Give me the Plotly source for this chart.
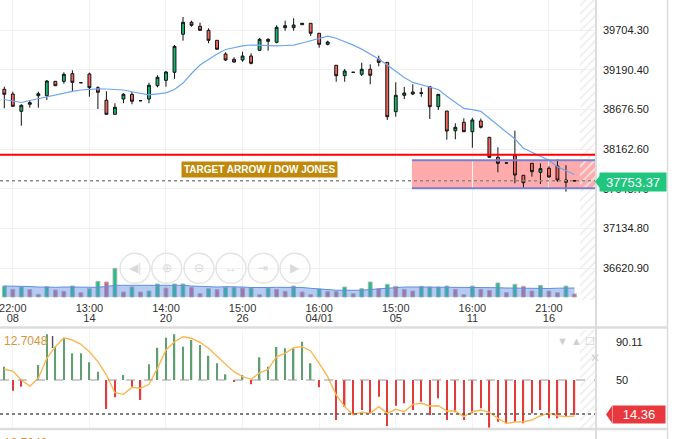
import plotly.graph_objects as go

# candle index and OHLC
idx = list(range(68))
open_ = [38937, 38876, 38652, 38743, 38854, 38854, 39040, 39040, 39139, 39022,
         39135, 38958, 38795, 38613, 38811, 38872, 38789, 38811, 38983, 39053,
         39157, 39649, 39804, 39752, 39700, 39571, 39394, 39325, 39316, 39368,
         39442, 39584, 39545, 39734, 39734, 39773, 39791, 39662, 39519, 39248,
         39113, 39157, 39131, 39196, 39325, 39286, 38647, 38859, 38876, 38893,
         38971, 38712, 38656, 38401, 38510, 38388, 38527, 38316, 38057, 37983,
         38078, 37824, 37979, 37863, 37915, 37945, 37763, 37753]
high = [38971, 38906, 38743, 38786, 38906, 39057, 39044, 39157, 39183, 39022,
        39152, 38976, 38911, 38756, 38885, 38902, 38789, 39022, 39118, 39174,
        39510, 39873, 39825, 39799, 39726, 39571, 39416, 39351, 39424, 39403,
        39601, 39597, 39765, 39825, 39856, 39791, 39791, 39662, 39566, 39248,
        39200, 39157, 39281, 39260, 39372, 39286, 39027, 38967, 39002, 38958,
        38971, 38872, 38656, 38497, 38562, 38569, 38559, 38316, 38186, 37983,
        38401, 37824, 37979, 37979, 37941, 38031, 37954, 37753]
low = [38691, 38712, 38466, 38699, 38699, 38798, 38980, 39009, 38906, 39022,
       38841, 38682, 38613, 38613, 38756, 38743, 38789, 38756, 38963, 38971,
       39074, 39566, 39747, 39695, 39532, 39455, 39303, 39281, 39294, 39260,
       39436, 39436, 39532, 39695, 39695, 39773, 39627, 39475, 39506, 39035,
       39035, 39157, 39109, 39002, 39235, 38540, 38582, 38811, 38863, 38841,
       38553, 38669, 38285, 38290, 38384, 38181, 38430, 38054, 37863, 37983,
       37721, 37656, 37806, 37712, 37793, 37741, 37612, 37753]
close = [38872, 38717, 38730, 38764, 38880, 39044, 38983, 39131, 39027, 39022,
         38958, 38898, 38613, 38704, 38872, 38782, 38789, 38989, 39092, 39161,
         39493, 39804, 39765, 39700, 39571, 39455, 39316, 39290, 39368, 39273,
         39584, 39558, 39739, 39760, 39769, 39791, 39662, 39519, 39549, 39113,
         39174, 39157, 39196, 39118, 39286, 38582, 38859, 38889, 38902, 38885,
         38712, 38872, 38397, 38445, 38388, 38540, 38445, 38057, 37979, 37983,
         37828, 37728, 37871, 37910, 37802, 37763, 37734, 37753]
ma = [38805, 38782, 38766, 38792, 38815, 38844, 38870, 38893, 38911, 38928,
      38937, 38943, 38941, 38934, 38928, 38905, 38881, 38866, 38879, 38890,
      38934, 39018, 39141, 39251, 39323, 39395, 39452, 39477, 39499, 39510,
      39504, 39499, 39500, 39504, 39508, 39536, 39566, 39593, 39624, 39598,
      39558, 39509, 39457, 39392, 39328, 39251, 39170, 39090, 39026, 38997,
      38963, 38934, 38846, 38765, 38690, 38673, 38652, 38563, 38471, 38384,
      38295, 38175, 38123, 38073, 38020, 37934, 37884, 37835]

# volume (thousands) and its average
volume = [11, 7.7, 10, 7.3, 2.7, 10.3, 7, 5.7, 11, 4.3,
          8.3, 15.7, 15, 28.7, 5, 10, 5, 6, 13, 9,
          13, 13, 9.7, 3.3, 8.3, 7.3, 9.7, 9.7, 9, 9,
          2.3, 9, 7.7, 5.7, 11, 5, 2.3, 8, 5.3, 5.3,
          10, 3.3, 8.3, 15, 8.3, 12.7, 10.7, 7.7, 6, 10.7,
          10, 10, 11, 7.7, 2.3, 11, 7.7, 6.7, 14, 4.3,
          12.7, 10.7, 6, 11.7, 6, 4.3, 11, 3]
vol_up = [1, 0, 1, 0, 0, 1, 0, 0, 1, 0,
          1, 1, 0, 1, 0, 1, 0, 1, 1, 0,
          1, 1, 0, 0, 1, 0, 1, 1, 0, 1,
          0, 1, 0, 0, 1, 0, 0, 1, 0, 0,
          1, 0, 1, 1, 0, 1, 0, 0, 0, 1,
          1, 1, 1, 0, 0, 1, 0, 0, 1, 0,
          1, 0, 0, 1, 0, 0, 1, 0]
vol_ma = [11, 11, 10.8, 10.5, 10, 9.5, 9.7, 10, 10, 10,
          9.8, 9.7, 10.5, 11.7, 11.7, 11.7, 11.7, 12, 12.3, 12.3,
          12, 11.7, 11, 10.5, 10, 10, 10.3, 10.3, 10, 9.5,
          9.3, 9.5, 9.7, 9.8, 10, 9.5, 8.7, 8, 7.3, 6.8,
          6.7, 6.7, 6.8, 7.5, 8.3, 9, 9.5, 10, 10, 10,
          10, 10, 10, 9.7, 9.5, 9.3, 9.3, 9.3, 9.3, 9,
          8.8, 8.5, 8.3, 8.3, 8.5, 8.8, 9, 9]

# oscillator pane
osc_hist = [63.9, 38.8, 43.0, 50.0, 65.7, 97.9, 84.9, 93.7, 78.0, 78.0,
            68.5, 58.7, 19.6, 31.9, 55.2, 43.0, 29.1, 66.4, 83.8, 94.3,
            97.9, 84.9, 91.9, 86.6, 75.4, 67.5, 56.0, 48.2, 55.2, 45.5,
            73.8, 63.9, 84.6, 83.2, 83.2, 90.1, 67.5, 42.4, 50.0, 8.1,
            22.0, 13.4, 18.6, 15.1, 32.5, 1.8, 23.1, 25.6, 18.6, 27.3,
            13.4, 30.8, 8.1, 16.2, 8.1, 15.1, 20.4, 0.1, 6.3, 4.7,
            6.3, 4.7, 15.1, 18.6, 9.9, 9.9, 11.6, 13.4]
osc_line = [61.2, 59.4, 50.0, 43.7, 51.8, 72.7, 84.9, 94.3, 91.9, 87.4,
            79.6, 69.2, 55.2, 36.7, 35.0, 42.3, 41.3, 45.5, 62.3, 81.4,
            90.1, 95.3, 93.7, 89.5, 83.2, 74.4, 66.4, 58.7, 53.5, 50.7,
            57.6, 61.2, 74.4, 77.9, 83.8, 84.9, 80.4, 67.5, 53.5, 34.3,
            22.1, 13.3, 16.2, 15.1, 22.1, 15.1, 19.3, 16.8, 24.5, 25.6,
            22.8, 23.1, 17.5, 17.5, 11.6, 16.8, 18.6, 16.2, 9.9, 4.6,
            6.0, 6.3, 8.1, 12.6, 15.1, 12.6, 11.6, 12.3]

tick_pos = [1, 10, 19, 28, 37, 46, 55, 64]
tick_time = ["22:00", "13:00", "14:00", "15:00", "16:00", "15:00", "16:00", "21:00"]
tick_date = ["08", "14", "20", "26", "04/01", "05", "11", "16"]
price_ticks = [39704.30, 39190.40, 38676.50, 38162.60, 37648.70, 37134.80, 36620.90]
osc_ticks = [90.11, 50]

last_price = 37753.37
last_osc = 14.36
target_level = 38091
zone_top, zone_bottom, zone_start = 38018, 37656, 47.9

W, H, PW = 684, 439, 596
X_RANGE = [-0.505, 69.53]
P_RANGE = [36210.5, 40092.5]
O_RANGE = [-0.26, 102.35]


def px(x):
    return x / PW


def py(y):
    return 1 - y / H


GREEN, RED = "#13b96e", "#f4675d"
hatch = dict(color="#ececec", line_width=0,
             pattern=dict(shape="/", fgcolor="#ececec", size=6, solidity=0.25, fillmode="replace"))

fig = go.Figure()

# hatched "future" strip
fig.add_trace(go.Bar(x=[68.59], y=[P_RANGE[1] - P_RANGE[0]], base=[P_RANGE[0]], width=1.88, marker=hatch,
                     xaxis="x", yaxis="y", hoverinfo="skip", showlegend=False))
fig.add_trace(go.Bar(x=[68.59], y=[O_RANGE[1] - O_RANGE[0]], base=[O_RANGE[0]], width=1.88, marker=hatch,
                     xaxis="x2", yaxis="y3", hoverinfo="skip", showlegend=False))

# volume
vol_colors = ["#1fbf86" if u else "#e0607a" for u in vol_up]
fig.add_trace(go.Bar(x=idx, y=volume, width=0.45, marker=dict(color=vol_colors, line=dict(color="#b4b4b4", width=1)),
                     xaxis="x", yaxis="y2", showlegend=False))
fig.add_trace(go.Scatter(x=idx, y=vol_ma, mode="lines", fill="tozeroy",
                         line=dict(color="#5d8fe3", width=1), fillcolor="rgba(90,140,225,0.45)",
                         xaxis="x", yaxis="y2", showlegend=False))

# candles and moving average
fig.add_trace(go.Candlestick(x=idx, open=open_, high=high, low=low, close=close,
                             increasing=dict(fillcolor=GREEN, line=dict(color="#111", width=1)),
                             decreasing=dict(fillcolor=RED, line=dict(color="#111", width=1)),
                             whiskerwidth=0, xaxis="x", yaxis="y", showlegend=False))
fig.add_trace(go.Scatter(x=idx, y=ma, mode="lines", line=dict(color="#6ea6f5", width=1.2),
                         xaxis="x", yaxis="y", showlegend=False))
# carrier for the date row of the time axis
fig.add_trace(go.Scatter(x=tick_pos, y=[None] * len(tick_pos), mode="lines", xaxis="x3", yaxis="y",
                         hoverinfo="skip", showlegend=False))

# oscillator
hist_colors = ["#5f9f70" if v >= 50 else "#e43a3a" for v in osc_hist]
fig.add_trace(go.Bar(x=idx, y=[v - 50 for v in osc_hist], base=50, width=0.17,
                     marker=dict(color=hist_colors, line_width=0),
                     xaxis="x2", yaxis="y3", showlegend=False))
fig.add_trace(go.Scatter(x=idx, y=osc_line, mode="lines", line=dict(color="#ffb54f", width=1.4),
                         xaxis="x2", yaxis="y3", showlegend=False))

shapes = [
    dict(type="rect", xref="x", yref="y", x0=zone_start, x1=X_RANGE[1] + 1, y0=zone_bottom, y1=zone_top,
         fillcolor="rgba(255,0,0,0.33)", line_width=0, layer="below"),
    dict(type="line", xref="x", yref="y", x0=zone_start, x1=X_RANGE[1] + 1, y0=zone_top, y1=zone_top,
         line=dict(color="#7b7fd2", width=2)),
    dict(type="line", xref="x", yref="y", x0=zone_start, x1=X_RANGE[1] + 1, y0=zone_bottom, y1=zone_bottom,
         line=dict(color="#7b7fd2", width=2)),
    dict(type="line", xref="paper", yref="y", x0=0, x1=1, y0=target_level, y1=target_level,
         line=dict(color="#ff0000", width=2)),
    dict(type="line", xref="paper", yref="y", x0=0, x1=1, y0=last_price, y1=last_price,
         line=dict(color="#8a8a8a", width=1.5, dash="dot")),
    dict(type="line", xref="paper", yref="y3", x0=0, x1=1, y0=50, y1=50,
         line=dict(color="#9a9a9a", width=1, dash="dash")),
    dict(type="line", xref="paper", yref="y3", x0=0, x1=1, y0=last_osc, y1=last_osc,
         line=dict(color="#555", width=1.5, dash="dot")),
    # pane separators and borders
    dict(type="line", xref="paper", yref="paper", x0=0, x1=px(668), y0=py(327.5), y1=py(327.5),
         line=dict(color="#dcdcdc", width=2.5)),
    dict(type="line", xref="paper", yref="paper", x0=0, x1=px(668), y0=py(429), y1=py(429),
         line=dict(color="#dcdcdc", width=2.5)),
    dict(type="line", xref="paper", yref="paper", x0=px(596), x1=px(596), y0=0, y1=1,
         line=dict(color="#dcdcdc", width=2)),
    dict(type="line", xref="paper", yref="paper", x0=px(667.5), x1=px(667.5), y0=0, y1=1,
         line=dict(color="#dcdcdc", width=1.5)),
    # label pointers
    dict(type="path", xref="paper", yref="paper",
         path=f"M {px(595)},{py(181.8)} L {px(600)},{py(175.5)} L {px(600)},{py(188)} Z",
         fillcolor="#1ec77d", line_width=0),
    dict(type="path", xref="paper", yref="paper",
         path=f"M {px(606)},{py(414.5)} L {px(612)},{py(406)} L {px(612)},{py(423)} Z",
         fillcolor="#e8383d", line_width=0),
]


def label(text, x, y, xanchor="center", **kw):
    return dict(text=text, x=px(x), y=py(y), xref="paper", yref="paper", xanchor=xanchor,
                yanchor="middle", showarrow=False, **kw)


annotations = [
    label("<b>TARGET ARROW / DOW JONES</b>", 259.5, 169.5, bgcolor="#c0890a", borderpad=2,
          font=dict(color="white", size=10)),
    label("37753.37", 633, 181.8, bgcolor="#1ec77d", width=64, height=16, font=dict(color="white", size=13)),
    label("14.36", 638.5, 414.5, bgcolor="#e8383d", width=50, height=15, font=dict(color="white", size=13)),
    label("12.7048", 2, 341, xanchor="left", font=dict(color="#d6953c", size=12)),
    label("|", 49, 341, xanchor="left", font=dict(color="#000", size=12)),
    label("12.7048", 2, 443, xanchor="left", font=dict(color="#d6953c", size=12)),
    label("▼ ▲ ☐", 597, 341, xanchor="right", font=dict(color="#cfcfcf", size=11)),
    label("✕", 595, 358, font=dict(color="#d0d0d0", size=12)),
]

# navigation buttons overlay
nav_x = [135, 166.7, 199, 231, 263.3, 295]
nav_glyph = ["◀|", "⊕", "⊖", "↔", "⇥", "▶"]
for cx, g in zip(nav_x, nav_glyph):
    shapes.append(dict(type="circle", xref="paper", yref="paper", x0=px(cx - 15), x1=px(cx + 15),
                       y0=py(268.3 + 15), y1=py(268.3 - 15), line=dict(color="#e4e4e4", width=1.5),
                       fillcolor="rgba(255,255,255,0.25)"))
    annotations.append(label(g, cx, 268.3, font=dict(color="#dadada", size=12)))

fig.update_layout(
    width=W, height=H, margin=dict(l=0, r=W - PW, t=0, b=0, autoexpand=False),
    paper_bgcolor="white", plot_bgcolor="white", barmode="overlay", boxgap=0.52,
    font=dict(family="Arial", size=11, color="#222"),
    showlegend=False, shapes=shapes, annotations=annotations,
    xaxis=dict(range=X_RANGE, anchor="y", tickvals=tick_pos, ticktext=tick_time, showgrid=True,
               gridcolor="#f1f1f1", zeroline=False, showline=False, ticks="", rangeslider=dict(visible=False),
               tickfont=dict(size=11, color="#333"), automargin=False, ticklabeloverflow="allow",
               ticklabelstandoff=0),
    xaxis3=dict(range=X_RANGE, overlaying="x", anchor="free", position=py(300), side="bottom",
                tickvals=tick_pos, ticktext=tick_date, showgrid=False, zeroline=False, showline=False,
                ticks="", tickfont=dict(size=11, color="#333"), automargin=False,
                ticklabeloverflow="allow", ticklabelstandoff=10),
    xaxis2=dict(range=X_RANGE, anchor="y3", tickvals=tick_pos, showticklabels=False,
                showgrid=True, gridcolor="#f3f3f3", zeroline=False, showline=False, ticks="",
                automargin=False),
    yaxis=dict(domain=[py(300), 1], range=P_RANGE, side="right", tickvals=price_ticks,
               ticktext=[f"{v:.2f}" for v in price_ticks], showgrid=True, gridcolor="#f1f1f1",
               zeroline=False, showline=False, ticks="", ticklabelstandoff=6, tickfont=dict(size=11),
               automargin=False),
    yaxis2=dict(overlaying="y", range=[-3, 297], visible=False),
    yaxis3=dict(domain=[py(428), py(330)], range=O_RANGE, side="right", anchor="x2", tickvals=osc_ticks,
                ticktext=["90.11", "50"], showgrid=False, zeroline=False, showline=False, ticks="",
                ticklabelstandoff=19, tickfont=dict(size=11), automargin=False),
)

fig.write_html("out.html", config={"displayModeBar": False},
               post_script="document.body.style.margin='0';")
